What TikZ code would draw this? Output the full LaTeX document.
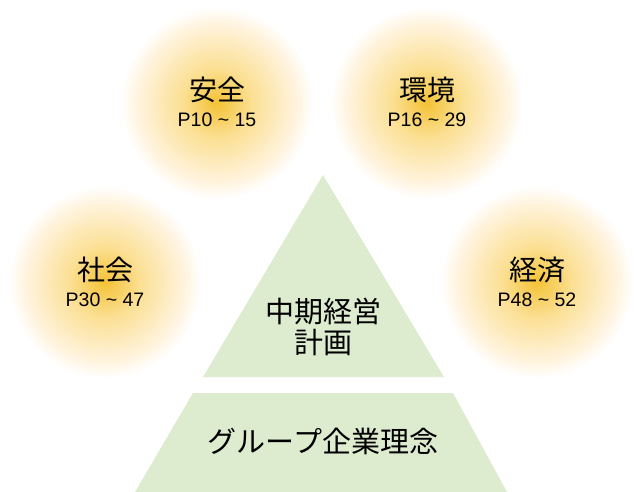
\documentclass[tikz,border=0pt]{standalone}
\usepackage{fontspec}
\setmainfont{Liberation Sans}
\newfontfamily\cjk{Noto Sans CJK JP}
\definecolor{gcore}{HTML}{F4C235}
\definecolor{gmid}{HTML}{FBDF92}
\definecolor{gedge}{HTML}{FFF4E0}
\definecolor{pyr}{HTML}{DDEBCF}
\pgfdeclareradialshading{glow}{\pgfpoint{0bp}{0bp}}{color(0bp)=(gcore); color(9bp)=(gmid); color(21bp)=(gedge); color(25bp)=(white); color(50bp)=(white)}
\begin{document}
\begin{tikzpicture}[x=1pt,y=-1pt,
  glowcircle/.style={circle, minimum size=192pt, inner sep=0pt, shading=glow},
  titletext/.style={anchor=base, inner sep=0pt, font=\cjk\fontsize{28}{30}\selectfont},
  pagetext/.style={anchor=base, inner sep=0pt, font=\fontsize{19.5}{22}\selectfont},
  pyrtext/.style={anchor=base, inner sep=0pt, font=\cjk\fontsize{29}{31}\selectfont}]
\useasboundingbox (0,0) rectangle (634,492);
% glowing circles
\node[glowcircle] (anzen) at (217,103) {};
\node[glowcircle] (kankyo) at (427,103) {};
\node[glowcircle] (shakai) at (105,282) {};
\node[glowcircle] (keizai) at (537,282) {};
% pyramid
\fill[pyr] (323,175) -- (444,377) -- (203,377) -- cycle;
\fill[pyr] (193,393) -- (453,393) -- (507,492) -- (135,492) -- cycle;
% circle labels
\node[titletext] (t1) at (217,101) {安全};
\node[pagetext] (p1) at (217,127) {P10 \textasciitilde{} 15};
\node[titletext] (t2) at (427,101) {環境};
\node[pagetext] (p2) at (427,127) {P16 \textasciitilde{} 29};
\node[titletext] (t3) at (105,280) {社会};
\node[pagetext] (p3) at (105,306) {P30 \textasciitilde{} 47};
\node[titletext] (t4) at (537,280) {経済};
\node[pagetext] (p4) at (537,306) {P48 \textasciitilde{} 52};
% pyramid labels
\node[pyrtext] (m1) at (323,322) {中期経営};
\node[pyrtext] (m2) at (323,353) {計画};
\node[pyrtext] (b1) at (323,452) {グループ企業理念};
\end{tikzpicture}
\end{document}
